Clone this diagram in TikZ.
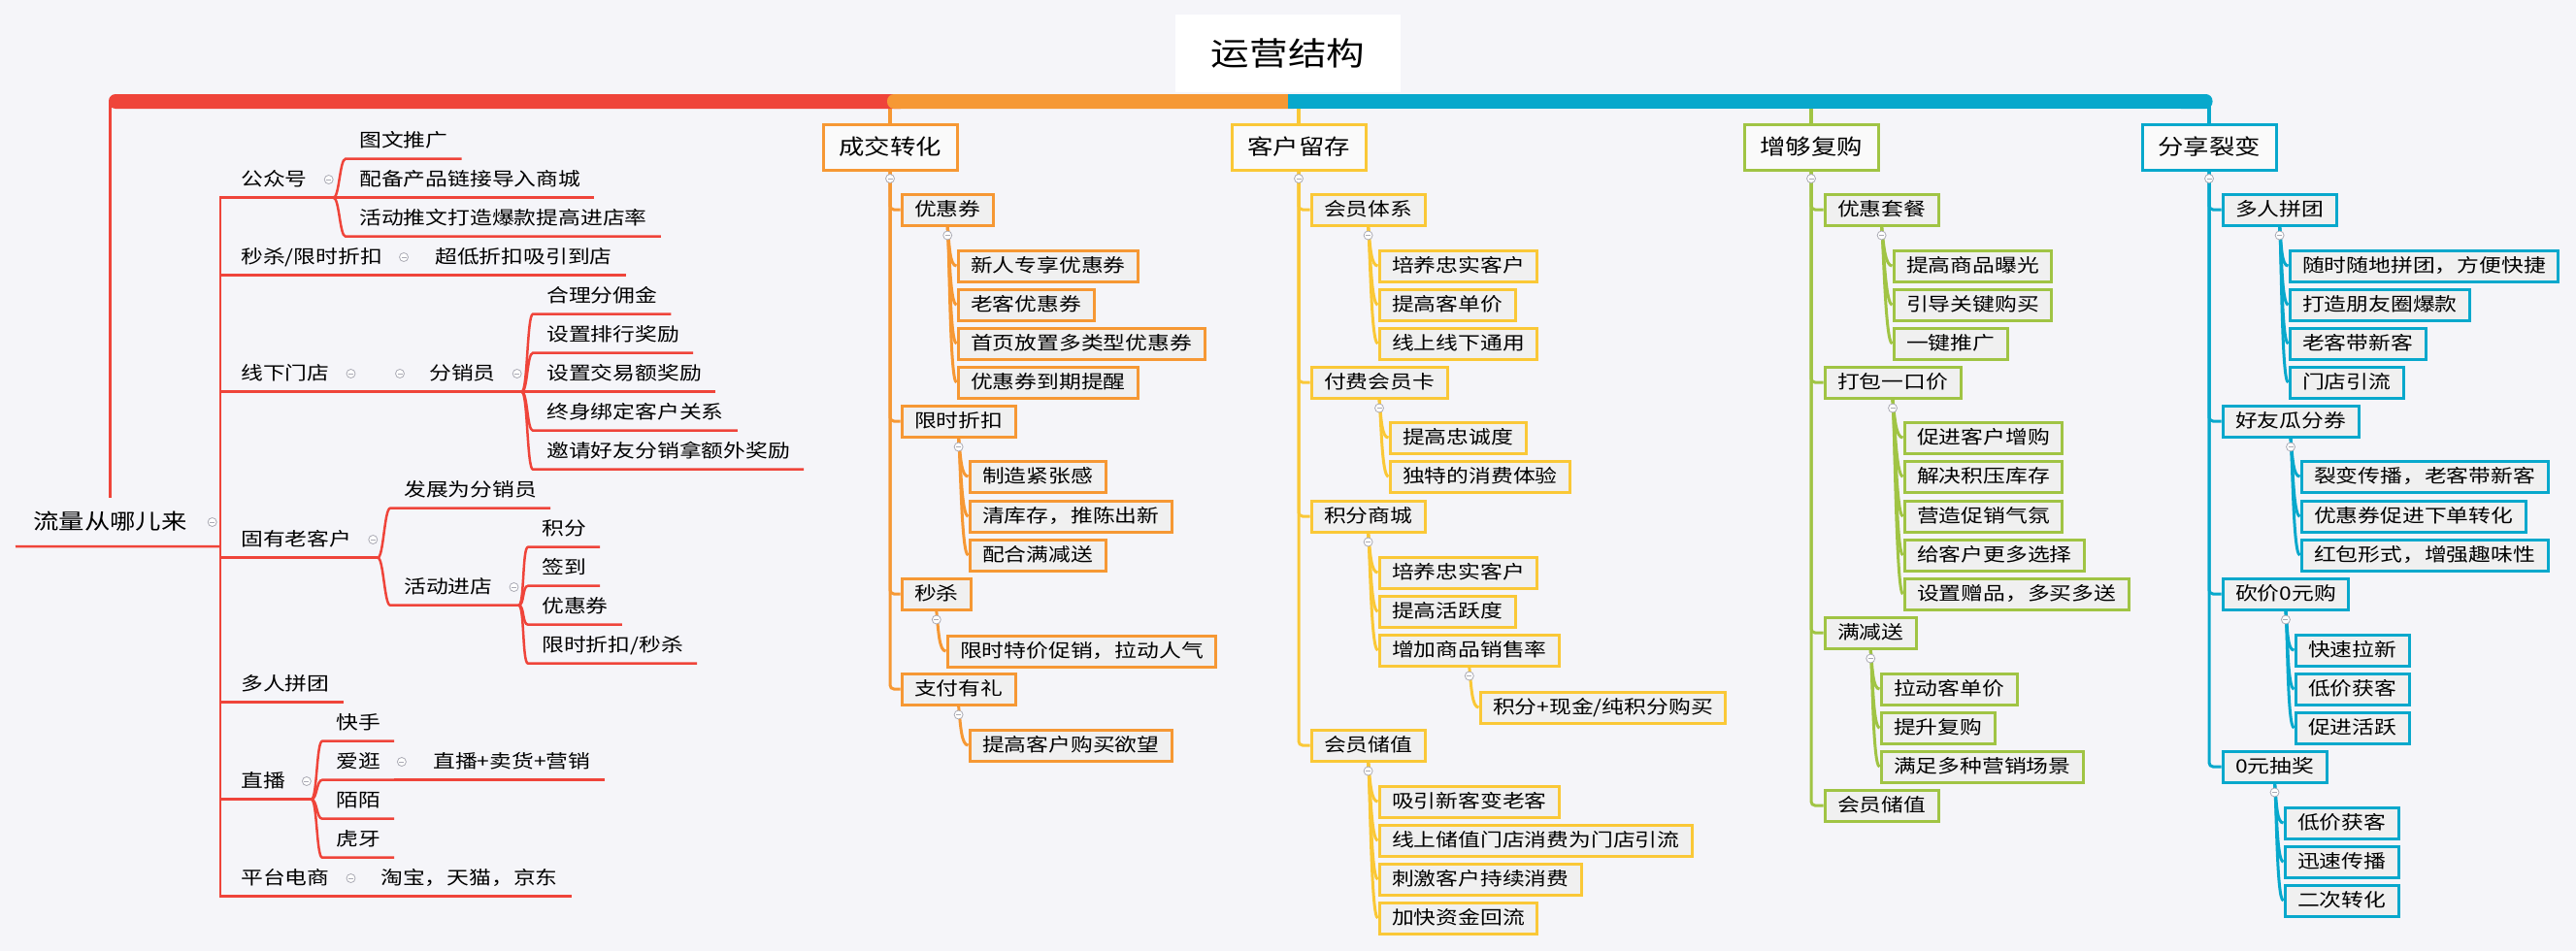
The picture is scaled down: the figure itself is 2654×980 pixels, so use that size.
\documentclass[tikz,border=0pt]{standalone}
\usepackage{fontspec}
\newfontfamily\cjk[FakeStretch=1.2]{Noto Sans CJK SC}
\usetikzlibrary{positioning}
\definecolor{cred}{RGB}{239,68,58}
\definecolor{corange}{RGB}{246,152,52}
\definecolor{cyellow}{RGB}{250,200,55}
\definecolor{cgreen}{RGB}{160,196,68}
\definecolor{cblue}{RGB}{8,168,204}
\definecolor{bg}{RGB}{245,245,249}
\definecolor{boxfill}{RGB}{240,240,240}
\definecolor{topfill}{RGB}{250,250,250}
\definecolor{foldgray}{RGB}{170,170,180}
\tikzset{
  rtext/.style={font=\cjk\fontsize{19}{19}\selectfont, inner xsep=14pt, inner ysep=0pt,
    text height=16pt, text depth=3pt, minimum height=37pt, anchor=west},
  rline/.style={draw=cred, line width=2.5pt},
  cbox/.style={draw, line width=3pt, fill=boxfill, font=\cjk\fontsize{19}{19}\selectfont,
    inner xsep=13pt, inner ysep=0pt, text height=16pt, text depth=3pt, minimum height=32pt, anchor=west},
  tbox/.style={draw, line width=3pt, fill=topfill, font=\cjk\fontsize{22}{22}\selectfont,
    inner xsep=16pt, minimum width=138pt, minimum height=47pt, text height=18pt, text depth=4pt},
  link/.style={line width=3pt},
  fold/.style={circle, draw=foldgray, fill=white, line width=0.8pt, minimum size=9pt, inner sep=0pt,
    path picture={\draw[foldgray, line width=0.8pt] ([xshift=-2.5pt]path picture bounding box.center)
      -- ([xshift=2.5pt]path picture bounding box.center);}}
}
\begin{document}
\begin{tikzpicture}[x=1pt,y=-1pt]
\useasboundingbox (0,0) rectangle (2654,980);
\fill[bg] (0,0) rectangle (2654,980);
\coordinate (bar) at (0,104);

% title
\node[font=\cjk\fontsize{33}{33}\selectfont, fill=white, minimum width=232pt, minimum height=80pt, inner sep=0pt] (title) at (1327,55) {运营结构};

% ---- 流量从哪儿来
\node[rtext, font=\cjk\fontsize{22}{22}\selectfont, inner xsep=18pt, text height=18pt, text depth=4pt, minimum height=50pt] (root) at (16,538) {流量从哪儿来};
\node[fold, right=3pt of root] (root-m) {};
\coordinate (rt) at (227,563);
\draw[rline] (root.south west) -- (rt);

\node[rtext] (gzh) at (234,185) {公众号};
\node[fold, right=3pt of gzh] (gzh-m) {};
\draw[rline] (rt) |- (gzh.south west) -- (gzh.south -| gzh-m.east) coordinate (gzh-b);
\foreach \n/\lbl/\y in {1/图文推广/145, 2/配备产品链接导入商城/185, 3/活动推文打造爆款提高进店率/225}
{
  \node[rtext] (gzh-\n) at (356,\y) {\lbl};
  \draw[rline] (gzh-b) .. controls +(6,0) and +(-6,0) .. (gzh-\n.south west) -- (gzh-\n.south east);
}

\node[rtext] (msxs) at (234,265) {秒杀/限时折扣};
\node[fold, right=3pt of msxs] (msxs-m) {};
\node[rtext] (cdzk) at (434,265) {超低折扣吸引到店};
\draw[rline] (rt) |- (msxs.south west) -- (cdzk.south east);

\node[rtext] (xxmd) at (234,385) {线下门店};
\node[fold, right=3pt of xxmd] (xxmd-m) {};
\node[fold] (xxmd-m2) at (412,385) {};
\node[rtext] (fxy) at (428,385) {分销员};
\node[fold, right=3pt of fxy] (fxy-m) {};
\draw[rline] (rt) |- (xxmd.south west) -- (fxy.south -| fxy-m.east) coordinate (fxy-b);
\foreach \n/\lbl/\y in {1/合理分佣金/305, 2/设置排行奖励/345, 3/设置交易额奖励/385, 4/终身绑定客户关系/425, 5/邀请好友分销拿额外奖励/465}
{
  \node[rtext] (fxy-\n) at (549,\y) {\lbl};
  \draw[rline] (fxy-b) .. controls +(6,0) and +(-6,0) .. (fxy-\n.south west) -- (fxy-\n.south east);
}

\node[rtext] (gylk) at (234,556) {固有老客户};
\node[fold, right=3pt of gylk] (gylk-m) {};
\draw[rline] (rt) |- (gylk.south west) -- (gylk.south -| gylk-m.east) coordinate (gylk-b);
\node[rtext] (fzfx) at (402,505) {发展为分销员};
\draw[rline] (gylk-b) .. controls +(6,0) and +(-6,0) .. (fzfx.south west) -- (fzfx.south east);
\node[rtext] (hdjd) at (402,605) {活动进店};
\node[fold, right=3pt of hdjd] (hdjd-m) {};
\draw[rline] (gylk-b) .. controls +(6,0) and +(-6,0) .. (hdjd.south west) -- (hdjd.south -| hdjd-m.east) coordinate (hdjd-b);
\foreach \n/\lbl/\y in {1/积分/545, 2/签到/585, 3/优惠券/625, 4/{限时折扣/秒杀}/665}
{
  \node[rtext] (hdjd-\n) at (544,\y) {\lbl};
  \draw[rline] (hdjd-b) .. controls +(6,0) and +(-6,0) .. (hdjd-\n.south west) -- (hdjd-\n.south east);
}

\node[rtext] (drpt) at (234,705) {多人拼团};
\draw[rline] (rt) |- (drpt.south west) -- (drpt.south east);

\node[rtext] (zb) at (234,805) {直播};
\node[fold, right=3pt of zb] (zb-m) {};
\draw[rline] (rt) |- (zb.south west) -- (zb.south -| zb-m.east) coordinate (zb-b);
\foreach \n/\lbl/\y in {1/快手/745, 2/爱逛/785, 3/陌陌/825, 4/虎牙/865}
{
  \node[rtext] (zb-\n) at (332,\y) {\lbl};
  \draw[rline] (zb-b) .. controls +(6,0) and +(-6,0) .. (zb-\n.south west) -- (zb-\n.south east);
}
\node[fold, right=3pt of zb-2] (zb-2-m) {};
\node[rtext] (zbmx) at (432,785) {直播+卖货+营销};
\draw[rline] (zb-2.south east) -- (zbmx.south east);

\node[rtext] (ptds) at (234,905) {平台电商};
\node[fold, right=3pt of ptds] (ptds-m) {};
\node[rtext] (tbtm) at (378,905) {淘宝，天猫，京东};
\draw[rline] (rt) |- (ptds.south west) -- (tbtm.south east);

% ---- 成交转化
\node[tbox, draw=corange] (cjzh) at (917,152) {成交转化};
\foreach \n/\lbl/\y in {1/优惠券/216, 2/限时折扣/434, 3/秒杀/612, 4/支付有礼/710}
{
  \node[cbox, draw=corange] (cjzh-\n) at (927.5,\y) {\lbl};
  \draw[link, corange, rounded corners=4pt] (cjzh.south) |- (cjzh-\n.west);
}
\foreach \n/\lbl/\y in {1/新人专享优惠券/274, 2/老客优惠券/314, 3/首页放置多类型优惠券/354, 4/优惠券到期提醒/394}
{
  \node[cbox, draw=corange] (cjzh-1-\n) at (985.5,\y) {\lbl};
  \draw[link, corange] (cjzh-1.south) .. controls +(2,20) and +(-7,0) .. (cjzh-1-\n.west);
}
\foreach \n/\lbl/\y in {1/制造紧张感/491, 2/清库存，推陈出新/532, 3/配合满减送/572}
{
  \node[cbox, draw=corange] (cjzh-2-\n) at (997.5,\y) {\lbl};
  \draw[link, corange] (cjzh-2.south) .. controls +(2,20) and +(-7,0) .. (cjzh-2-\n.west);
}
\node[cbox, draw=corange] (cjzh-3-1) at (974.5,671) {限时特价促销，拉动人气};
\draw[link, corange] (cjzh-3.south) .. controls +(2,20) and +(-7,0) .. (cjzh-3-1.west);
\node[cbox, draw=corange] (cjzh-4-1) at (997.5,768) {提高客户购买欲望};
\draw[link, corange] (cjzh-4.south) .. controls +(2,20) and +(-7,0) .. (cjzh-4-1.west);

% ---- 客户留存
\node[tbox, draw=cyellow] (khlc) at (1338,152) {客户留存};
\foreach \n/\lbl/\y in {1/会员体系/216, 2/付费会员卡/394, 3/积分商城/532, 4/会员储值/768}
{
  \node[cbox, draw=cyellow] (khlc-\n) at (1349.5,\y) {\lbl};
  \draw[link, cyellow, rounded corners=4pt] (khlc.south) |- (khlc-\n.west);
}
\foreach \n/\lbl/\y in {1/培养忠实客户/274, 2/提高客单价/314, 3/线上线下通用/354}
{
  \node[cbox, draw=cyellow] (khlc-1-\n) at (1419.5,\y) {\lbl};
  \draw[link, cyellow] (khlc-1.south) .. controls +(2,20) and +(-7,0) .. (khlc-1-\n.west);
}
\foreach \n/\lbl/\y in {1/提高忠诚度/451, 2/独特的消费体验/491}
{
  \node[cbox, draw=cyellow] (khlc-2-\n) at (1430.5,\y) {\lbl};
  \draw[link, cyellow] (khlc-2.south) .. controls +(2,20) and +(-7,0) .. (khlc-2-\n.west);
}
\foreach \n/\lbl/\y in {1/培养忠实客户/590, 2/提高活跃度/630, 3/增加商品销售率/670}
{
  \node[cbox, draw=cyellow] (khlc-3-\n) at (1419.5,\y) {\lbl};
  \draw[link, cyellow] (khlc-3.south) .. controls +(2,20) and +(-7,0) .. (khlc-3-\n.west);
}
\node[cbox, draw=cyellow] (khlc-3-3-1) at (1523.5,729) {积分+现金/纯积分购买};
\draw[link, cyellow] (khlc-3-3.south) .. controls +(2,20) and +(-7,0) .. (khlc-3-3-1.west);
\foreach \n/\lbl/\y in {1/吸引新客变老客/826, 2/线上储值门店消费为门店引流/866, 3/刺激客户持续消费/906, 4/加快资金回流/946}
{
  \node[cbox, draw=cyellow] (khlc-4-\n) at (1419.5,\y) {\lbl};
  \draw[link, cyellow] (khlc-4.south) .. controls +(2,20) and +(-7,0) .. (khlc-4-\n.west);
}

% ---- 增够复购
\node[tbox, draw=cgreen] (zgfg) at (1866,152) {增够复购};
\foreach \n/\lbl/\y in {1/优惠套餐/216, 2/打包一口价/394, 3/满减送/652, 4/会员储值/830}
{
  \node[cbox, draw=cgreen] (zgfg-\n) at (1878.5,\y) {\lbl};
  \draw[link, cgreen, rounded corners=4pt] (zgfg.south) |- (zgfg-\n.west);
}
\foreach \n/\lbl/\y in {1/提高商品曝光/274, 2/引导关键购买/314, 3/一键推广/354}
{
  \node[cbox, draw=cgreen] (zgfg-1-\n) at (1949.5,\y) {\lbl};
  \draw[link, cgreen] (zgfg-1.south) .. controls +(2,20) and +(-7,0) .. (zgfg-1-\n.west);
}
\foreach \n/\lbl/\y in {1/促进客户增购/451, 2/解决积压库存/491, 3/营造促销气氛/532, 4/给客户更多选择/572, 5/设置赠品，多买多送/612}
{
  \node[cbox, draw=cgreen] (zgfg-2-\n) at (1960.5,\y) {\lbl};
  \draw[link, cgreen] (zgfg-2.south) .. controls +(2,20) and +(-7,0) .. (zgfg-2-\n.west);
}
\foreach \n/\lbl/\y in {1/拉动客单价/710, 2/提升复购/750, 3/满足多种营销场景/790}
{
  \node[cbox, draw=cgreen] (zgfg-3-\n) at (1936.5,\y) {\lbl};
  \draw[link, cgreen] (zgfg-3.south) .. controls +(2,20) and +(-7,0) .. (zgfg-3-\n.west);
}

% ---- 分享裂变
\node[tbox, draw=cblue] (fxlb) at (2276,152) {分享裂变};
\foreach \n/\lbl/\y in {1/多人拼团/216, 2/好友瓜分券/434, 3/砍价0元购/612, 4/0元抽奖/790}
{
  \node[cbox, draw=cblue] (fxlb-\n) at (2288.5,\y) {\lbl};
  \draw[link, cblue, rounded corners=4pt] (fxlb.south) |- (fxlb-\n.west);
}
\foreach \n/\lbl/\y in {1/随时随地拼团，方便快捷/274, 2/打造朋友圈爆款/314, 3/老客带新客/354, 4/门店引流/394}
{
  \node[cbox, draw=cblue] (fxlb-1-\n) at (2357.5,\y) {\lbl};
  \draw[link, cblue] (fxlb-1.south) .. controls +(2,20) and +(-7,0) .. (fxlb-1-\n.west);
}
\foreach \n/\lbl/\y in {1/裂变传播，老客带新客/491, 2/优惠券促进下单转化/532, 3/红包形式，增强趣味性/572}
{
  \node[cbox, draw=cblue] (fxlb-2-\n) at (2369.5,\y) {\lbl};
  \draw[link, cblue] (fxlb-2.south) .. controls +(2,20) and +(-7,0) .. (fxlb-2-\n.west);
}
\foreach \n/\lbl/\y in {1/快速拉新/670, 2/低价获客/710, 3/促进活跃/750}
{
  \node[cbox, draw=cblue] (fxlb-3-\n) at (2363.5,\y) {\lbl};
  \draw[link, cblue] (fxlb-3.south) .. controls +(2,20) and +(-7,0) .. (fxlb-3-\n.west);
}
\foreach \n/\lbl/\y in {1/低价获客/848, 2/迅速传播/888, 3/二次转化/928}
{
  \node[cbox, draw=cblue] (fxlb-4-\n) at (2352.5,\y) {\lbl};
  \draw[link, cblue] (fxlb-4.south) .. controls +(2,20) and +(-7,0) .. (fxlb-4-\n.west);
}

% fold markers under the boxes
\foreach \m in {cjzh, khlc, zgfg, fxlb}
  \node[fold] (\m-m) at ([yshift=-7pt]\m.south) {};
\foreach \m in {cjzh-1, cjzh-2, cjzh-3, cjzh-4, khlc-1, khlc-2, khlc-3, khlc-3-3, khlc-4,
  zgfg-1, zgfg-2, zgfg-3, fxlb-1, fxlb-2, fxlb-3, fxlb-4}
  \node[fold] (\m-m) at ([yshift=-9pt]\m.south) {};

% stubs and top bar
\draw[cred, line width=3.5pt] (root.north) -- (root.north |- bar);
\draw[corange, line width=3.5pt] (cjzh.north) -- (cjzh.north |- bar);
\draw[cyellow, line width=3.5pt] (khlc.north) -- (khlc.north |- bar);
\draw[cgreen, line width=3.5pt] (zgfg.north) -- (zgfg.north |- bar);
\draw[cblue, line width=3.5pt] (fxlb.north) -- (fxlb.north |- bar);
\fill[cred, rounded corners=7pt] (112,97) rectangle (935,112);
\fill[corange, rounded corners=7pt] (914,97) rectangle (1340,112);
\fill[cblue] (1327,97) rectangle (2265,112);
\fill[cblue, rounded corners=7pt] (2240,97) rectangle (2279.5,112);
\end{tikzpicture}
\end{document}
